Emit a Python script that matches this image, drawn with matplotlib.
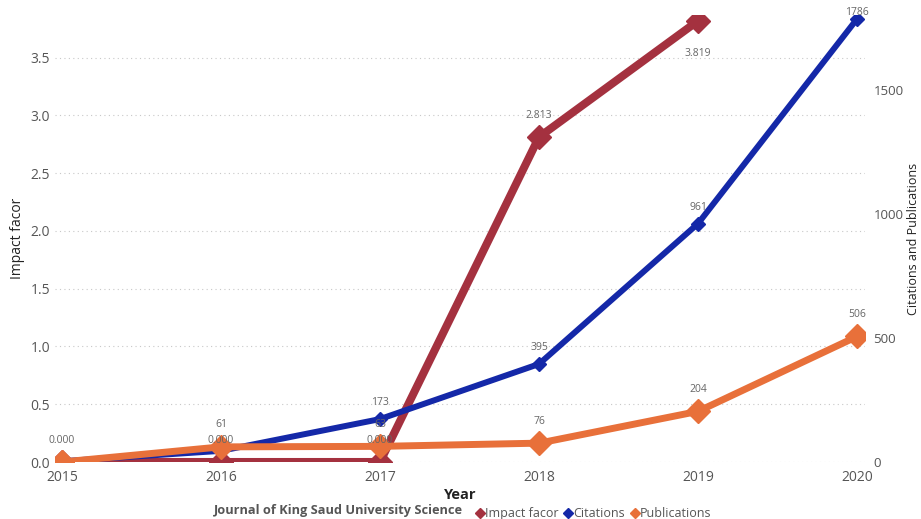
import matplotlib.pyplot as plt
from matplotlib.lines import Line2D

plt.rcParams['font.family'] = ['Open Sans', 'DejaVu Sans']

years = [2015, 2016, 2017, 2018, 2019, 2020]
impact_years = [2015, 2016, 2017, 2018, 2019]
impact_factor = [0.0, 0.0, 0.0, 2.813, 3.819]
citations = [3, 45, 173, 395, 961, 1786]
publications = [0, 61, 63, 76, 204, 506]

red = '#A4313F'
blue = '#1428A8'
orange = '#E8703A'
grey = '#666666'


def plot_chart():
    fig = plt.figure(figsize=(9.21, 5.19), dpi=100)
    ax = fig.add_axes([55 / 921, 57 / 519, 810 / 921, 447 / 519])
    ax2 = ax.twinx()

    # impact factor on the left axis (drawn underneath)
    ax.plot(impact_years, impact_factor, color=red, lw=5.8, marker='D', ms=12, zorder=3)
    ax.set_ylim(0, 3.87)
    ax.set_yticks([0, 0.5, 1.0, 1.5, 2.0, 2.5, 3.0, 3.5])
    ax.set_yticklabels(['%.1f' % v for v in ax.get_yticks()])
    ax.set_xlim(2015 - 7 / 159, 2020 + 8 / 159)
    ax.set_xticks(years)
    ax.yaxis.grid(True, linestyle=(0, (1, 3)), color='#c8c8c8', lw=0.8)
    ax.set_axisbelow(True)

    # citations and publications on the right axis
    ax2.plot(years, citations, color=blue, lw=4.3, marker='D', ms=7, zorder=2)
    ax2.plot(years, publications, color=orange, lw=5, marker='D', ms=12, zorder=3)
    ax2.set_ylim(0, 1802)
    ax2.set_yticks([0, 500, 1000, 1500])

    for a in (ax, ax2):
        for s in a.spines.values():
            s.set_visible(False)
        a.tick_params(length=0, labelsize=10, labelcolor='#555555')
    ax.tick_params(axis='x', pad=6)
    ax2.tick_params(axis='y', pad=6, labelsize=9.5)

    # data labels, all on the top axes so they sit over the lines
    lab = dict(fontsize=7.5, color=grey, ha='center', zorder=10)
    for x, v in zip(impact_years, impact_factor):
        dy = -25 if x == 2019 else 14
        ax2.annotate('%.3f' % v, (x, v), xycoords=ax.transData, xytext=(0, dy),
                     textcoords='offset points', **lab)
    for x, v in zip(years, citations):
        if x in (2015, 2016):
            continue
        dy = 3 if x == 2020 else 10
        ax2.annotate(str(v), (x, v), xytext=(0, dy), textcoords='offset points', **lab)
    for x, v in zip(years, publications):
        if x == 2015:
            continue
        ax2.annotate(str(v), (x, v), xytext=(0, 14), textcoords='offset points', **lab)

    ax.set_ylabel('Impact facor', fontsize=10, color='#222222', labelpad=4)
    ax2.set_ylabel('Citations and Publications', fontsize=9, color='#222222')
    ax2.yaxis.set_label_coords(1.052, 0.5)
    ax.set_xlabel('Year', fontsize=10.5, fontweight='bold', color='#222222', labelpad=2)

    # legend row
    fig.text(0.232, 0.003, 'Journal of King Saud University Science', fontsize=9.2,
             fontweight='bold', color='#555555', ha='left', va='bottom')
    handles = [Line2D([], [], color=c, marker='D', ls='none', ms=5)
               for c in (red, blue, orange)]
    fig.legend(handles, ['Impact facor', 'Citations', 'Publications'], ncol=3,
               loc='lower left', bbox_to_anchor=(0.502, -0.024), frameon=False,
               fontsize=9, labelcolor='#555555', handletextpad=-0.1,
               columnspacing=0.3, handlelength=1.0)

    fig.savefig('out.png', dpi=100)


def main():
    plot_chart()


if __name__ == '__main__':
    main()
